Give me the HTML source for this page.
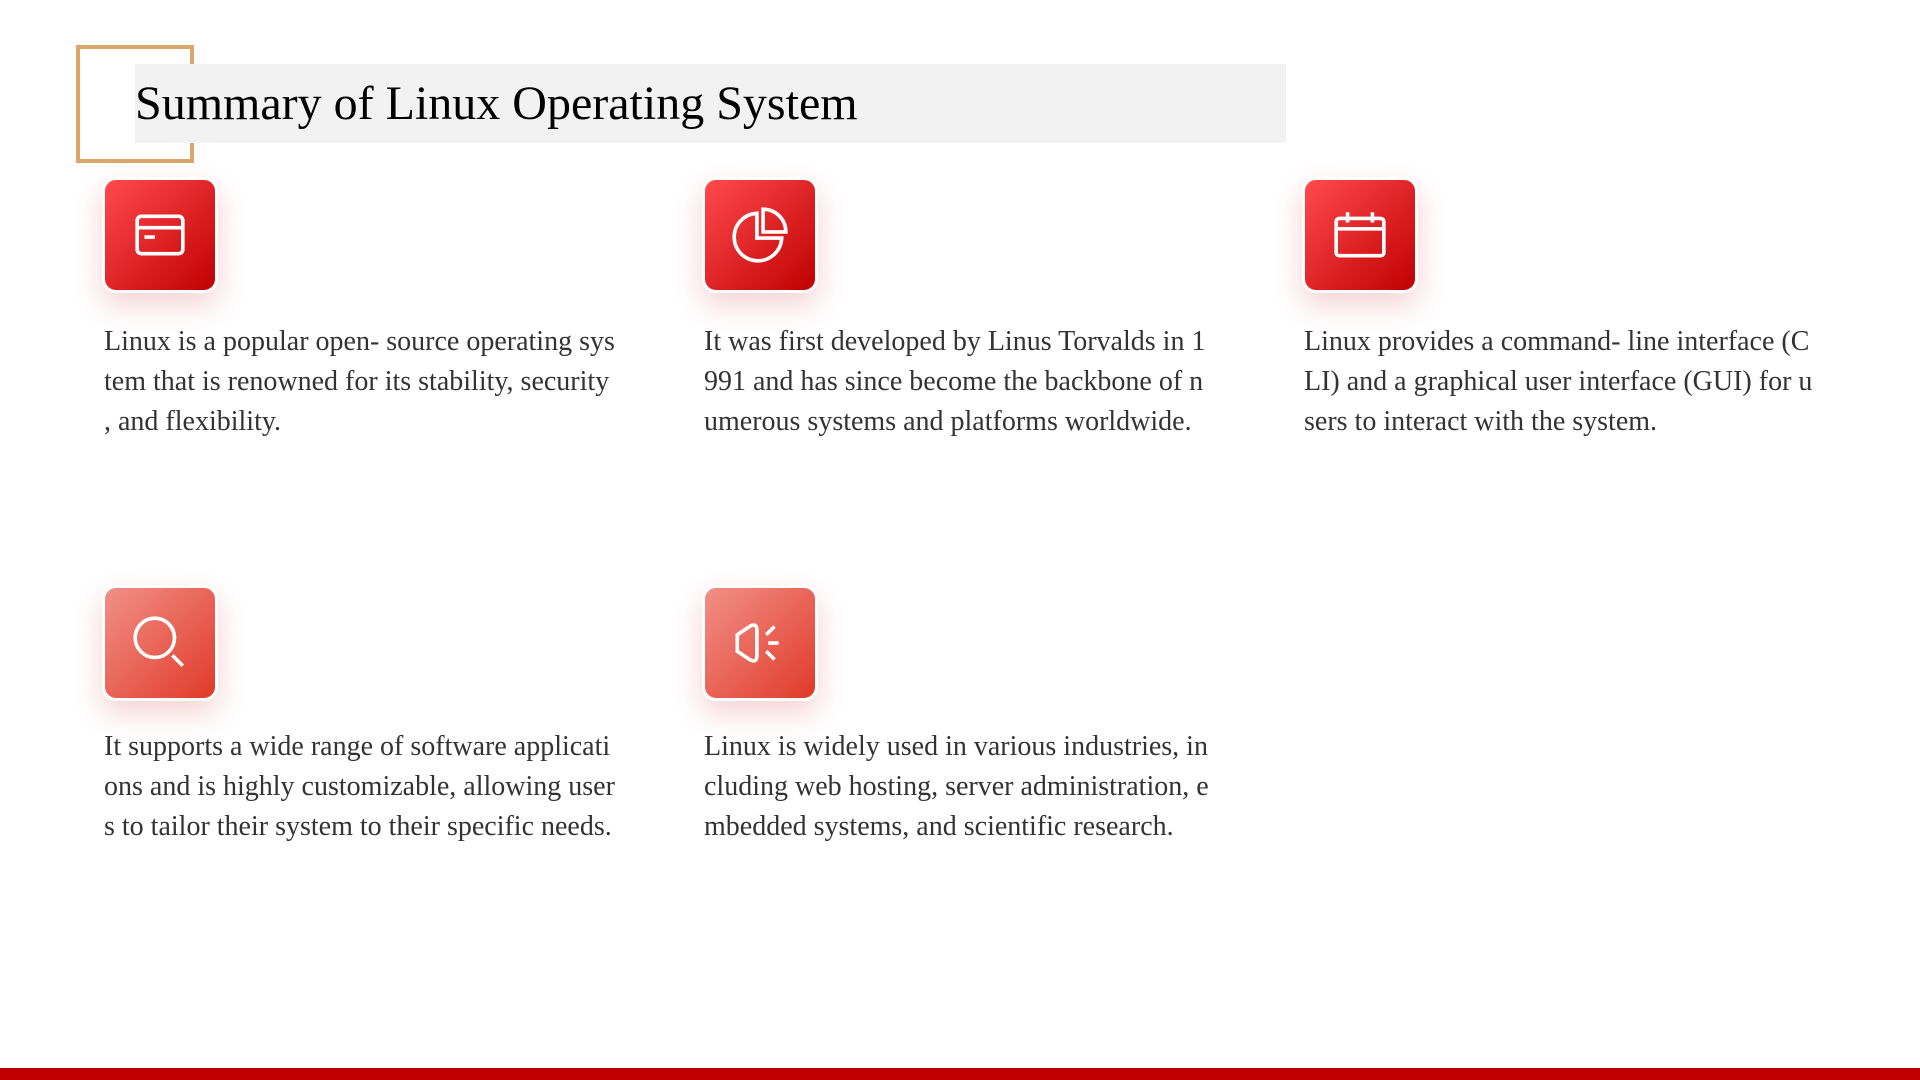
<!DOCTYPE html>
<html><head><meta charset="utf-8"><style>
body{margin:0;width:1920px;height:1080px;position:relative;background:#fff;overflow:hidden;font-family:"Liberation Serif",serif}
.br{position:absolute;left:76px;top:45px;width:110px;height:110px;border:4px solid #dda56a}
.bar{position:absolute;left:135px;top:64px;width:1151px;height:79px;background:#f2f2f2}
.title{position:absolute;left:135px;top:74px;font-size:48px;line-height:60px;color:#000;white-space:nowrap}
.ic{position:absolute;width:110px;height:110px;border-radius:14px;border:3px solid #fff;background:linear-gradient(135deg,#ff4a4e,#c00000);box-shadow:0 12px 30px rgba(200,0,0,.18);display:flex;align-items:center;justify-content:center}
.ic.l{background:linear-gradient(135deg,#f29088,#e03a28)}
.t{position:absolute;width:560px;font-size:28px;line-height:40px;color:#333;white-space:nowrap}
.foot{position:absolute;left:0;top:1068px;width:1920px;height:12px;background:#c00000}
</style></head><body>
<div class="br"></div><div class="bar"></div>
<div class="title">Summary of Linux Operating System</div>

<div class="ic" style="left:102px;top:177px"><svg width="56" height="56" viewBox="0 0 54 54" fill="none" stroke="#fff" stroke-width="3.5"><rect x="5" y="9" width="44" height="36" rx="4"/><line x1="5" y1="20" x2="49" y2="20"/><line x1="12" y1="29" x2="22" y2="29"/></svg></div>
<div class="t" style="left:104px;top:322px">Linux is a popular open- source operating sys<br>tem that is renowned for its stability, security<br>, and flexibility.</div>

<div class="ic" style="left:702px;top:177px"><svg width="62" height="62" viewBox="0 0 60 60" fill="none" stroke="#fff" stroke-width="3.5"><path d="M27 9 A23 23 0 1 0 51 33 L27 33 Z"/><path d="M33 5 A22 22 0 0 1 55 27 L33 27 Z"/></svg></div>
<div class="t" style="left:704px;top:322px">It was first developed by Linus Torvalds in 1<br>991 and has since become the backbone of n<br>umerous systems and platforms worldwide.</div>

<div class="ic" style="left:1302px;top:177px"><svg width="58" height="58" viewBox="0 0 56 56" fill="none" stroke="#fff" stroke-width="3.5"><rect x="5" y="12" width="46" height="36" rx="3"/><line x1="5" y1="22" x2="51" y2="22"/><line x1="16" y1="6" x2="16" y2="16"/><line x1="40" y1="6" x2="40" y2="16"/></svg></div>
<div class="t" style="left:1304px;top:322px">Linux provides a command- line interface (C<br>LI) and a graphical user interface (GUI) for u<br>sers to interact with the system.</div>

<div class="ic l" style="left:102px;top:585px"><svg width="62" height="62" viewBox="0 0 60 60" fill="none" stroke="#fff" stroke-width="3.5"><circle cx="25" cy="25" r="19"/><line x1="42" y1="42" x2="52" y2="52"/></svg></div>
<div class="t" style="left:104px;top:727px">It supports a wide range of software applicati<br>ons and is highly customizable, allowing user<br>s to tailor their system to their specific needs.</div>

<div class="ic l" style="left:702px;top:585px"><svg width="62" height="62" viewBox="0 0 60 60" fill="none" stroke="#fff" stroke-width="3.5"><path d="M8 22 L20 14 Q27 10 27 18 L27 42 Q27 50 20 46 L8 38 Z"/><line x1="36" y1="22" x2="44" y2="14"/><line x1="38" y1="30" x2="48" y2="30"/><line x1="36" y1="38" x2="44" y2="46"/></svg></div>
<div class="t" style="left:704px;top:727px">Linux is widely used in various industries, in<br>cluding web hosting, server administration, e<br>mbedded systems, and scientific research.</div>

<div class="foot"></div>
</body></html>
